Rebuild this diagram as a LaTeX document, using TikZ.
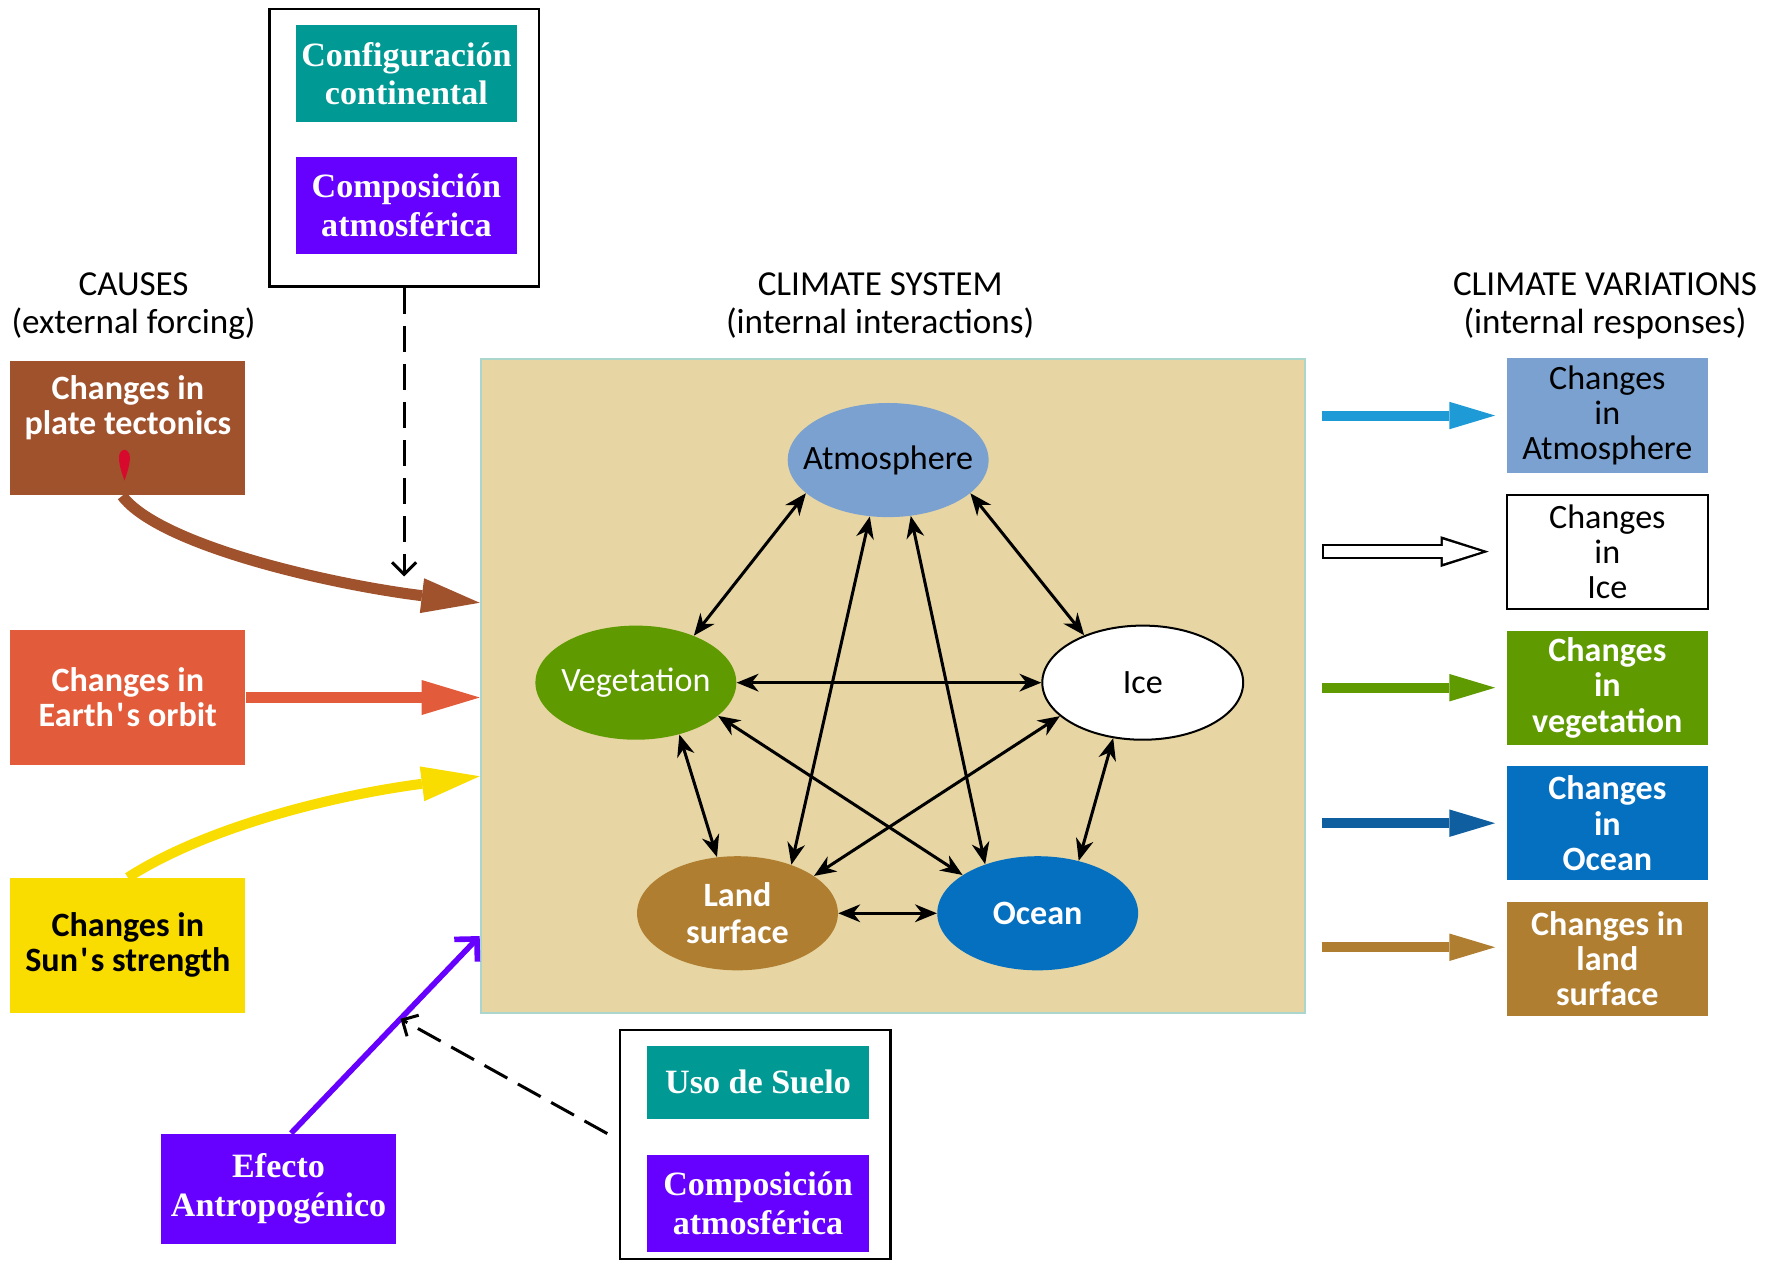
\documentclass[tikz,border=0pt]{standalone}
\usepackage{fontspec}
\setmainfont{Liberation Serif}
\setsansfont{Carlito}
\usepackage{tikz}
\usetikzlibrary{positioning,arrows.meta,shapes.geometric}

\definecolor{tectcol}{RGB}{160,82,45}
\definecolor{orbitcol}{RGB}{226,92,60}
\definecolor{suncol}{RGB}{250,221,0}
\definecolor{tealcol}{RGB}{0,153,148}
\definecolor{purpcol}{RGB}{102,0,255}
\definecolor{syscol}{RGB}{231,214,163}
\definecolor{sysline}{RGB}{170,214,205}
\definecolor{atmcol}{RGB}{123,161,208}
\definecolor{vegcol}{RGB}{94,154,0}
\definecolor{landcol}{RGB}{176,126,48}
\definecolor{oceancol}{RGB}{5,112,192}
\definecolor{atmarrow}{RGB}{30,155,215}
\definecolor{oceanarrow}{RGB}{15,95,160}
\definecolor{dropred}{RGB}{215,10,45}

\newcommand{\straightq}{\kern1.2pt\XeTeXglyph\XeTeXcharglyph"27\kern1.2pt}

\begin{document}
\begin{tikzpicture}[
      x=0.02cm, y=-0.02cm,
      node distance=0.36cm,
      every node/.style={
        align=center
      },
      >={Stealth[length=11pt,width=9pt,line width=0pt]},
      headtext/.style={font=\sffamily\fontsize{17.5}{19}\selectfont},
      causebox/.style={minimum width=4.12cm, minimum height=2.36cm, inner sep=0pt,
        text=white, font=\sffamily\bfseries\fontsize{17}{17.6}\selectfont},
      respbox/.style={minimum width=3.52cm, minimum height=2cm, inner sep=0pt,
        text=white, font=\sffamily\bfseries\fontsize{17}{17.6}\selectfont},
      darkresp/.style={respbox, text=black, font=\sffamily\fontsize{17}{17.6}\selectfont},
      spanbox/.style={minimum width=3.88cm, minimum height=1.7cm, inner sep=0pt,
        text=white, font=\rmfamily\bfseries\fontsize{17}{19.4}\selectfont},
      groupframe/.style={draw, line width=1.2pt, inner sep=0pt},
      sphere/.style={ellipse, minimum width=3.52cm, minimum height=2cm, inner ysep=0pt, inner xsep=-0.4cm,
        font=\sffamily\fontsize{17}{18.2}\selectfont},
      link/.style={<->, line width=1.5pt},
      fatarrow/.style={line width=5.5pt, -{Triangle[length=29pt,width=17.5pt,line width=0pt]}},
      outarrow/.style={line width=5pt, shorten <=0.28cm, shorten >=0.2cm,
        -{Triangle[length=22.8pt,width=13.7pt,line width=0pt]}},
      dashlink/.style={line width=1.5pt, dash pattern=on 13pt off 6pt,
        -{Straight Barb[length=6pt,width=12pt]}}
    ]
    \useasboundingbox (0,0) rectangle (1568,1104);

    % Headers
    \node (causes) [headtext] at (117,268) {CAUSES\\(external forcing)};
    \node (system) [headtext] at (771,268) {CLIMATE SYSTEM\\(internal interactions)};
    \node (variations) [headtext] at (1406,268) {CLIMATE VARIATIONS\\(internal responses)};

    % Climate system
    \node (sys) [draw=sysline, fill=syscol, line width=1pt, minimum width=14.44cm, minimum height=11.46cm] at (782,600.5) {};
    \node (atm) [sphere, fill=atmcol] at (778,403) {Atmosphere};
    \node (veg) [sphere, fill=vegcol, text=white] at (557,598) {Vegetation};
    \node (ice) [sphere, draw, line width=1pt, fill=white] at (1001,598) {Ice};
    \node (land) [sphere, fill=landcol, text=white, font=\sffamily\bfseries\fontsize{17}{18.2}\selectfont] at (646,800) {Land\\surface};
    \node (ocean) [sphere, fill=oceancol, text=white, font=\sffamily\bfseries\fontsize{17}{18.2}\selectfont] at (909,800) {Ocean};

    % Interactions
    \draw[link] (atm.202) -- (veg.39);
    \draw[link] (atm.338) -- (ice.141);
    \draw[link] (atm.252) -- (land.42);
    \draw[link] (atm.292) -- (ocean.137);
    \draw[link] (veg) -- (ice);
    \draw[link] (veg.310) -- (land.110);
    \draw[link] (veg.338) -- (ocean.153);
    \draw[link] (ice.202) -- (land.26);
    \draw[link] (ice.242) -- (ocean.52);
    \draw[link] (land) -- (ocean);

    % Causes
    \node (plate) [causebox, fill=tectcol] at (112,375) {Changes in\\plate tectonics\rule[-23pt]{0pt}{23pt}};
    \node (orbit) [causebox, fill=orbitcol] at (112,611) {Changes in\\Earth\straightq s orbit};
    \node (sun) [causebox, fill=suncol, text=black] at (112,828) {Changes in\\Sun\straightq s strength};
    \fill[dropred] (109,421) .. controls (105,410) and (103,401) .. (105,397)
      .. controls (107,393) and (111,393) .. (113,397)
      .. controls (115,401) and (113,410) .. (109,421);

    % Responses
    \node (atmresp) [darkresp, fill=atmcol] at (1408,364) {Changes\\in\\Atmosphere};
    \node (iceresp) [darkresp, below=of atmresp, draw, line width=1pt, fill=white] {Changes\\in\\Ice};
    \node (vegresp) [respbox, below=of iceresp, fill=vegcol] {Changes\\in\\vegetation};
    \node (oceanresp) [respbox, below=of vegresp, fill=oceancol] {Changes\\in\\Ocean};
    \node (landresp) [respbox, below=of oceanresp, fill=landcol] {Changes in\\land\\surface};

    % Spanish groups
    \node (config) [spanbox, fill=tealcol] at (356,64.5) {Configuración\\continental};
    \node (compo) [spanbox, fill=purpcol, below=0.6cm of config] {Composición\\atmosférica};
    \node (topframe) [groupframe, minimum width=4.72cm, minimum height=4.86cm] at (354,129.5) {};

    \node (suelo) [spanbox, fill=tealcol, minimum height=1.28cm] at (664,948) {Uso de Suelo};
    \node (compolow) [spanbox, fill=purpcol, below=0.62cm of suelo] {Composición\\atmosférica};
    \node (lowframe) [groupframe, minimum width=4.74cm, minimum height=4.02cm] at (661.5,1002.5) {};

    \node (efecto) [spanbox, fill=purpcol, minimum width=4.12cm, minimum height=1.94cm] at (244,1041.5) {Efecto\\Antropogénico};

    % Forcing arrows
    \draw[fatarrow, tectcol] ([xshift=-0.1cm]plate.south) .. controls (140,478) and (290,512) .. ([yshift=1.45cm]sys.west);
    \draw[fatarrow, orbitcol] (orbit.east) -- (orbit.east -| sys.west);
    \draw[fatarrow, suncol, line width=5pt] (sun.north) .. controls (180,725) and (290,697) .. ([yshift=-1.59cm]sys.west);
    \draw[purpcol, line width=2.8pt, -{Straight Barb[length=8pt,width=16pt]}]
      ([xshift=0.22cm]efecto.north) -- coordinate[pos=0.58] (hit) ([yshift=-4.39cm]sys.west);
    \coordinate (gate) at (354,505);
    \draw[dashlink] (topframe.south) -- (gate);
    \draw[dashlink] ([xshift=-0.2cm,yshift=0.19cm]lowframe.west) -- (hit);

    % Response arrows
    \draw[outarrow, atmarrow] (atmresp.west -| sys.east) -- (atmresp.west);
    \draw[line width=7.4pt, shorten <=0.28cm, shorten >=0.3cm,
      -{Triangle[length=24pt,width=15.4pt,line width=0pt]}] (iceresp.west -| sys.east) -- (iceresp.west);
    \draw[white, line width=5.2pt, shorten <=9.07pt, shorten >=12.24pt,
      -{Triangle[length=19.2pt,width=12pt,line width=0pt]}] (iceresp.west -| sys.east) -- (iceresp.west);
    \draw[outarrow, vegcol] (vegresp.west -| sys.east) -- (vegresp.west);
    \draw[outarrow, oceanarrow] (oceanresp.west -| sys.east) -- (oceanresp.west);
    \draw[outarrow, landcol] ([yshift=0.2cm]landresp.west -| sys.east) -- ([yshift=0.2cm]landresp.west);
  \end{tikzpicture}
\end{document}
